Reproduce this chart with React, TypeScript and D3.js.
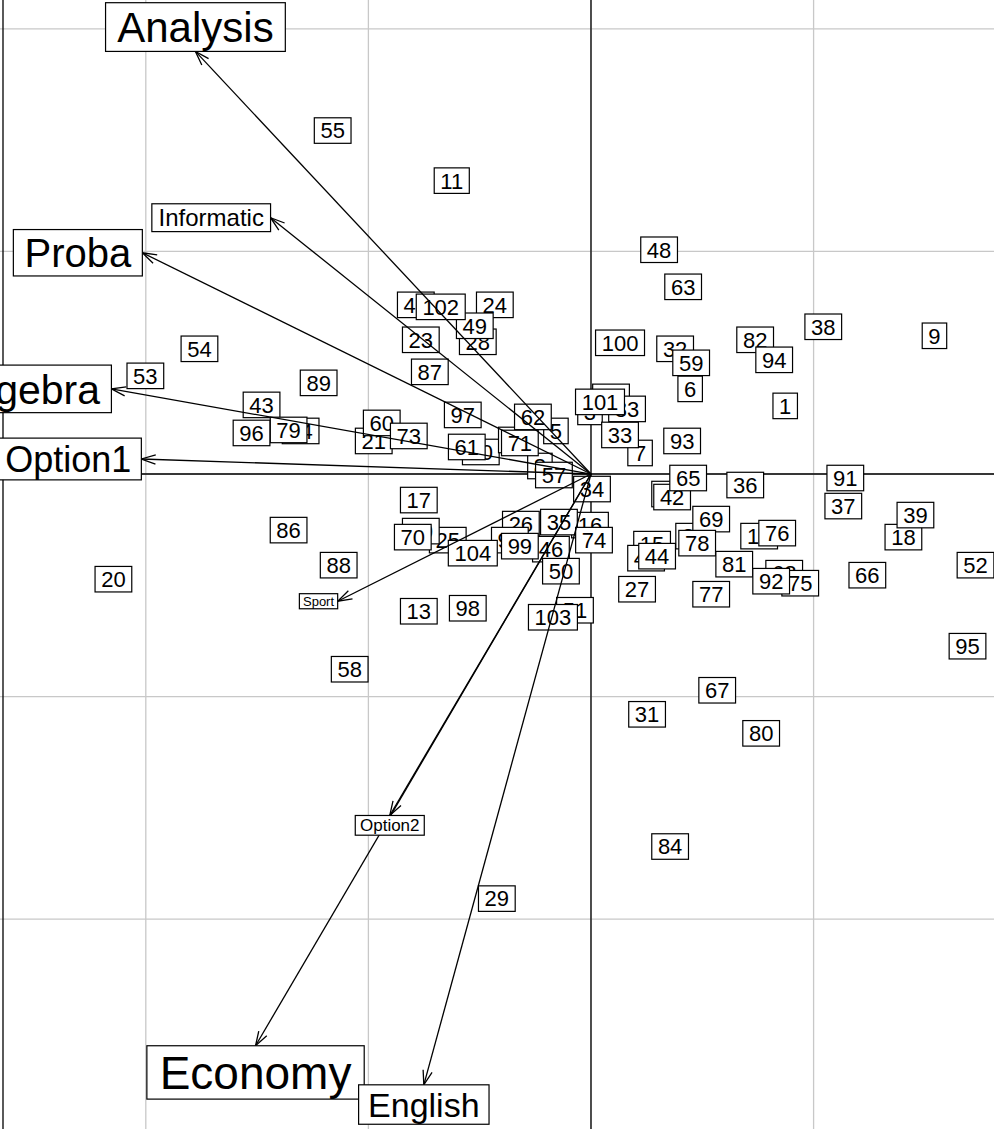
import React, { useEffect, useRef } from 'react';
import * as d3 from 'd3';

// ---------- data (PCA-like scores, grid step d = 2) ----------
const pointLabels = [
  '1','3','5','6','7','8','9','10','11','12','13','15','16','17','18','19','20','21','22','23','24','25','26','27','28','29','30','31','32','33','34','35','36','37','38','39','40','41','42','43','44','46','47','48','49','50','51','52','53','54','55','56','57','58','59','60','61','62','63','64','65','66','67','68','69','70','71','73','74','75','76','77','78','79','80','81','82','83','84','86','87','88','89','90','91','92','93','94','95','96','97','98','99','100','101','102','103','104'
];
const pointX = [
  1.745,-0.009,-0.315,0.891,0.441,-0.459,3.086,-0.990,-1.251,0.711,-1.547,0.549,-0.009,-1.547,2.807,1.511,-4.291,-1.952,0.927,-1.529,-0.864,-1.287,-0.630,0.414,-1.017,-0.846,-1.529,0.504,0.756,0.261,0.009,-0.288,1.386,2.267,2.087,2.915,-1.574,0.495,0.729,-2.960,0.594,-0.360,0.180,0.612,-1.044,-0.270,-0.144,3.455,-4.004,-3.518,-2.321,-0.666,-0.333,-2.168,0.900,-1.880,-1.116,-0.522,0.828,-2.609,0.873,2.483,1.134,1.736,1.080,-1.601,-0.639,-1.637,0.027,1.880,1.673,1.080,0.954,-2.717,1.529,1.287,1.475,0.324,0.711,-2.717,-1.448,-2.267,-2.447,-0.729,2.285,1.619,0.819,1.646,3.383,-3.050,-1.152,-1.107,-0.639,0.261,0.081,-1.350,-0.342,-1.062
];
const pointY = [
  0.612,0.558,0.387,0.765,0.189,0.072,1.242,0.198,2.636,-0.180,-1.233,-0.630,-0.459,-0.234,-0.567,-0.558,-0.945,0.297,-0.558,1.206,1.520,-0.594,-0.450,-1.035,1.188,-3.815,-0.513,-2.159,1.125,0.351,-0.135,-0.432,-0.099,-0.288,1.323,-0.369,1.520,-0.756,-0.207,0.621,-0.738,-0.675,0.693,2.015,1.332,-0.873,-1.224,-0.819,0.882,1.125,3.086,0.306,-0.009,-1.754,0.999,0.459,0.243,0.513,1.682,0.387,-0.036,-0.909,-1.943,-0.891,-0.405,-0.567,0.279,0.342,-0.594,-0.981,-0.531,-1.080,-0.621,0.396,-2.330,-0.810,1.206,0.585,-3.347,-0.504,0.918,-0.819,0.819,-0.594,-0.036,-0.963,0.297,1.026,-1.547,0.369,0.531,-1.206,-0.648,1.179,0.648,1.502,-1.287,-0.711
];

const varNames = ['Analysis','Informatic','Proba','Algebra','Option1','Sport','Option2','Economy','English'];
const varX = [-3.554,-2.879,-4.031,-4.309,-4.040,-2.276,-1.808,-3.014,-1.502];
const varY = [3.797,2.303,1.988,0.765,0.135,-1.143,-3.068,-5.137,-5.488];

const gridTicks = [-6,-4,-2,0,2,4,6];

// ---------- view / style ----------
const W = 994, H = 1129;
const XLIM: [number, number] = [-5.31, 3.621];
const YLIM: [number, number] = [-5.885, 4.259];
const FONT = '"Liberation Sans", Arial, Helvetica, sans-serif';
const POINT_FS = 22;
const VAR_FS: Record<string, number> = {
  Analysis: 42, Informatic: 24, Proba: 40, Algebra: 41, Option1: 36,
  Sport: 13, Option2: 17, Economy: 46, English: 34,
};
const BOX_H = 1.16;
const SPACE = 0.278;

export default function App() {
  const ref = useRef<SVGSVGElement>(null);
  useEffect(() => {
    document.body.style.margin = '0';
    document.body.style.overflow = 'hidden';
    const svg = d3.select(ref.current as SVGSVGElement);
    svg.selectAll('*').remove();
    const x = d3.scaleLinear().domain(XLIM).range([0, W]);
    const y = d3.scaleLinear().domain(YLIM).range([H, 0]);

    // grid
    const grid = svg.append('g');
    gridTicks.filter(t => t > XLIM[0] && t < XLIM[1]).forEach(t => {
      grid.append('line').attr('x1', x(t)).attr('x2', x(t)).attr('y1', 0).attr('y2', H)
        .attr('stroke', '#c8c8c8').attr('stroke-width', 1.3);
    });
    gridTicks.filter(t => t > YLIM[0] && t < YLIM[1]).forEach(t => {
      grid.append('line').attr('y1', y(t)).attr('y2', y(t)).attr('x1', 0).attr('x2', W)
        .attr('stroke', '#c8c8c8').attr('stroke-width', 1.3);
    });
    // frame (left side visible) and axes
    svg.append('line').attr('x1', 3).attr('x2', 3).attr('y1', 0).attr('y2', H)
      .attr('stroke', 'black').attr('stroke-width', 1.3);
    svg.append('line').attr('x1', 3).attr('x2', W).attr('y1', y(0)).attr('y2', y(0))
      .attr('stroke', 'black').attr('stroke-width', 1.3);
    svg.append('line').attr('x1', x(0)).attr('x2', x(0)).attr('y1', 0).attr('y2', H)
      .attr('stroke', 'black').attr('stroke-width', 1.3);

    const measure = (txt: string, fs: number) => {
      const t = svg.append('text').attr('font-size', fs).attr('font-family', FONT).text(txt);
      const w = (t.node() as SVGTextElement).getComputedTextLength();
      t.remove();
      return w + 2 * SPACE * fs;
    };
    const drawBox = (cx: number, cy: number, txt: string, fs: number, w: number) => {
      const h = BOX_H * fs;
      const g = svg.append('g');
      g.append('rect').attr('x', cx - w / 2).attr('y', cy - h / 2).attr('width', w).attr('height', h)
        .attr('fill', 'white').attr('stroke', 'black').attr('stroke-width', 1.2);
      g.append('text').attr('x', cx).attr('y', cy + 0.358 * fs).attr('text-anchor', 'middle')
        .attr('font-size', fs).attr('font-family', FONT).attr('fill', 'black').text(txt);
    };

    // individuals
    pointLabels.forEach((lab, i) => {
      const w = measure(lab, POINT_FS);
      drawBox(x(pointX[i]), y(pointY[i]), lab, POINT_FS, w);
    });

    // arrows
    const ox = x(0), oy = y(0);
    const HEAD = 15, ANG = (18 * Math.PI) / 180;
    varNames.forEach((_, i) => {
      const tx = x(varX[i]), ty = y(varY[i]);
      svg.append('line').attr('x1', ox).attr('y1', oy).attr('x2', tx).attr('y2', ty)
        .attr('stroke', 'black').attr('stroke-width', 1.3);
      const a = Math.atan2(oy - ty, ox - tx);
      const p = d3.path();
      p.moveTo(tx + HEAD * Math.cos(a + ANG), ty + HEAD * Math.sin(a + ANG));
      p.lineTo(tx, ty);
      p.lineTo(tx + HEAD * Math.cos(a - ANG), ty + HEAD * Math.sin(a - ANG));
      svg.append('path').attr('d', p.toString()).attr('fill', 'none')
        .attr('stroke', 'black').attr('stroke-width', 1.3);
    });

    // variable labels (ade4 eti.circ placement)
    varNames.forEach((name, i) => {
      const fs = VAR_FS[name];
      const w = measure(name, fs);
      const h = BOX_H * fs;
      const xr = varX[i], yr = varY[i];
      let cx = x(xr), cy = y(yr);
      if (xr > yr && xr > -yr) cx += w / 2;
      else if (xr > yr && xr <= -yr) cy += h / 2;
      else if (xr <= yr && xr <= -yr) cx -= w / 2;
      else cy -= h / 2;
      drawBox(cx, cy, name, fs, w);
    });
  }, []);

  return (
    <svg ref={ref} width={W} height={H}
      style={{ position: 'absolute', left: 0, top: 0, display: 'block', background: 'white' }} />
  );
}
